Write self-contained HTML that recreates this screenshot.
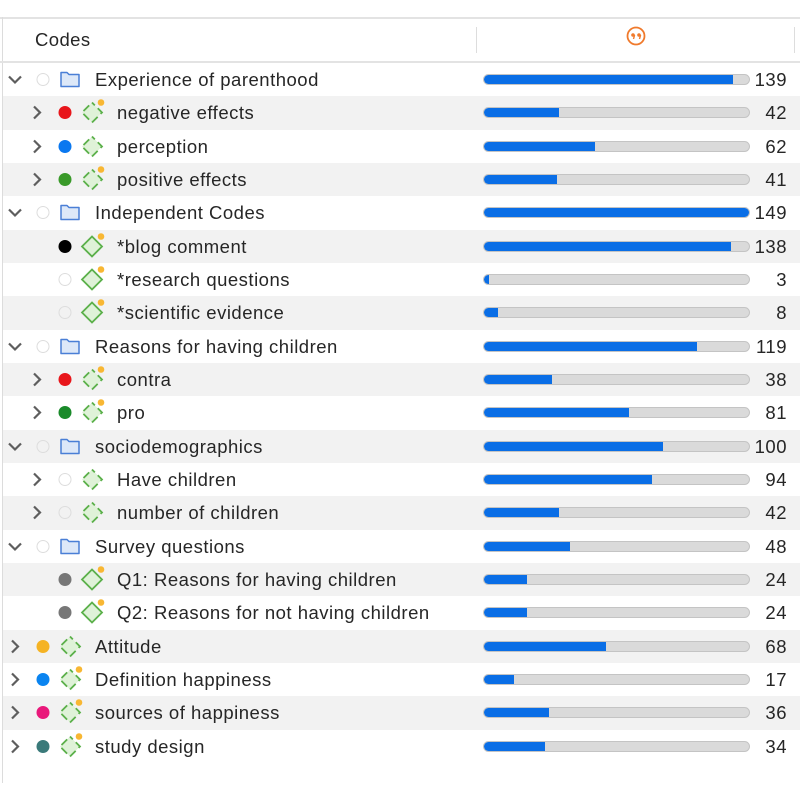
<!DOCTYPE html>
<html><head><meta charset="utf-8"><style>
*{margin:0;padding:0;box-sizing:border-box}
body{width:800px;height:800px;background:#fff;position:relative;overflow:hidden;font-family:"Liberation Sans",sans-serif;color:#262626}
.abs{position:absolute}
.row{position:absolute;left:3px;width:797px;height:33.33px}
.row.g{background:#f2f2f2}
.txt{position:absolute;font-size:18.5px;letter-spacing:0.5px;line-height:20px;white-space:nowrap}
.num{position:absolute;right:13px;font-size:18.5px;letter-spacing:0.5px;line-height:20px;text-align:right}
.track{position:absolute;left:480px;width:267px;height:11px;border-radius:6px;background:#dadada;border:1px solid #c4c4c4;overflow:hidden}
.fill{position:absolute;left:0;top:-1px;height:11px;background:#0a6ee6;border-radius:6px 0 0 6px}
</style></head><body>
<div class="abs" style="left:0;top:17px;width:800px;height:2px;background:#e3e3e3"></div>
<div class="abs" style="left:2px;top:17px;width:1px;height:766px;background:#dcdcdc"></div>
<div class="abs" style="left:0;top:61px;width:800px;height:2px;background:#e3e3e3"></div>
<div class="abs" style="left:35px;top:29px;font-size:18.5px;letter-spacing:0.4px">Codes</div>
<div class="abs" style="left:476px;top:27px;width:1px;height:26px;background:#ddd"></div>
<div class="abs" style="left:794px;top:27px;width:1px;height:26px;background:#ddd"></div>
<svg class="abs" style="left:626px;top:26px" width="20" height="20"><circle cx="10" cy="10" r="8.5" fill="none" stroke="#f07a2c" stroke-width="1.8"/><circle cx="7" cy="9" r="1.8" fill="#f07a2c"/><circle cx="13" cy="9" r="1.8" fill="#f07a2c"/><path d="M8.6,9 L7.5,13 M14.6,9 L13.5,13" stroke="#f07a2c" stroke-width="1.4"/></svg>
<div id="rows"></div>
<script>
const R=[
[0,'d',null,'f',0,'Experience of parenthood',139],
[1,'r','#e8161b','d',1,'negative effects',42],
[1,'r','#0a78f0','d',0,'perception',62],
[1,'r','#3a9a2a','d',1,'positive effects',41],
[0,'d',null,'f',0,'Independent Codes',149],
[1,'',  '#000','s',1,'*blog comment',138],
[1,'',  null,'s',1,'*research questions',3],
[1,'',  null,'s',1,'*scientific evidence',8],
[0,'d',null,'f',0,'Reasons for having children',119],
[1,'r','#e8161b','d',1,'contra',38],
[1,'r','#1a8a2a','d',1,'pro',81],
[0,'d',null,'f',0,'sociodemographics',100],
[1,'r',null,'d',0,'Have children',94],
[1,'r',null,'d',0,'number of children',42],
[0,'d',null,'f',0,'Survey questions',48],
[1,'','#777','s',1,'Q1: Reasons for having children',24],
[1,'','#777','s',1,'Q2: Reasons for not having children',24],
[0,'r','#f5b324','d',0,'Attitude',68],
[0,'r','#0a84f0','d',1,'Definition happiness',17],
[0,'r','#e9197b','d',1,'sources of happiness',36],
[0,'r','#3a7a7a','d',1,'study design',34]];
let h='';
R.forEach((r,i)=>{
 const top=63+i*33.33, cy=16.5, o=r[0]*22;
 h+=`<div class="row${i%2?' g':''}" style="top:${top}px">`;
 let s=`<svg class="abs" style="left:0;top:0" width="140" height="34">`;
 if(r[1]=='d') s+=`<polyline points="${6+o},${cy-3} ${12+o},${cy+3} ${18+o},${cy-3}" fill="none" stroke="#5e5e5e" stroke-width="2.2"/>`;
 if(r[1]=='r') s+=`<polyline points="${9+o},${cy-6} ${15+o},${cy} ${9+o},${cy+6}" fill="none" stroke="#5e5e5e" stroke-width="2.2"/>`;
 const dx=40+o;
 if(r[2]) s+=`<circle cx="${dx}" cy="${cy}" r="6.5" fill="${r[2]}"/>`;
 else s+=`<circle cx="${dx}" cy="${cy}" r="6" fill="none" stroke="#ddd" stroke-width="1"/>`;
 const ix=67+o;
 if(r[3]=='f'){
  s+=`<path d="M${ix-9},${cy-7} h6 l2,2 h10 v12 h-18 z" fill="#dde8f8" stroke="#4a7fd6" stroke-width="1.5" stroke-linejoin="round"/>`;
 } else {
  const d=`M${ix},${cy-10} L${ix+10},${cy} L${ix},${cy+10} L${ix-10},${cy} Z`;
  s+=`<path d="${d}" fill="#dff2d8" stroke="#5bb04a" stroke-width="1.8" ${r[3]=='d'?'stroke-dasharray="8 4.14" stroke-dashoffset="4"':''}/>`;
 }
 if(r[4]) s+=`<circle cx="${ix+9}" cy="${cy-10}" r="3.3" fill="#f8b733"/>`;
 s+='</svg>';
 h+=s;
 h+=`<div class="txt" style="left:${92+o}px;top:7px">${r[5]}</div>`;
 const w=Math.max(4,r[6]/149*267);
 h+=`<div class="track" style="top:11px"><div class="fill" style="width:${w}px;${r[6]==149?'border-radius:6px':''}"></div></div>`;
 h+=`<div class="num" style="top:7px">${r[6]}</div></div>`;
});
document.getElementById('rows').innerHTML=h;
</script>
</body></html>
